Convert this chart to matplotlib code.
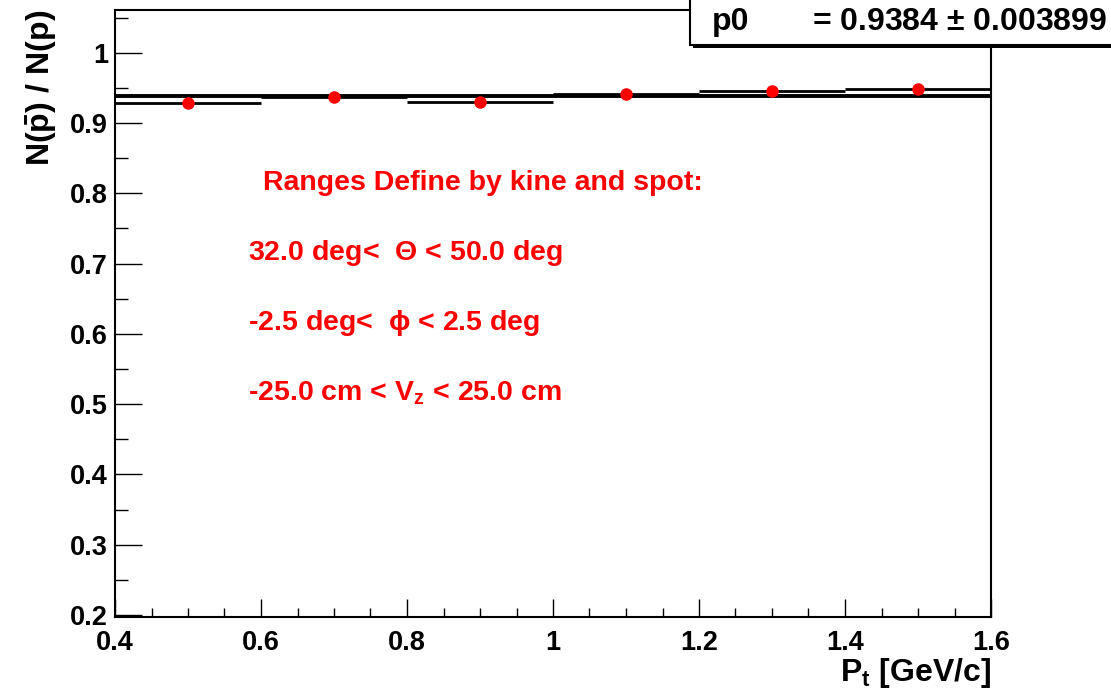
import numpy as np
import matplotlib
matplotlib.use("Agg")
import matplotlib.pyplot as plt
from matplotlib.ticker import MultipleLocator, FuncFormatter
from matplotlib.patches import Rectangle

# data
pt_centers = [0.5, 0.7, 0.9, 1.1, 1.3, 1.5]
pt_halfwidth = [0.1, 0.1, 0.1, 0.1, 0.1, 0.1]
ratio = [0.929, 0.937, 0.930, 0.941, 0.945, 0.948]
ratio_err = [0.006, 0.004, 0.004, 0.004, 0.004, 0.004]
p0 = 0.9384
p0_err = 0.003899

plt.rcParams['font.family'] = ['Liberation Sans', 'DejaVu Sans']
plt.rcParams['font.weight'] = 'bold'
plt.rcParams['axes.labelweight'] = 'bold'
plt.rcParams['mathtext.fontset'] = 'custom'
plt.rcParams['mathtext.rm'] = 'Liberation Sans'
plt.rcParams['mathtext.it'] = 'Liberation Sans:italic'
plt.rcParams['mathtext.bf'] = 'Liberation Sans:bold'

fig = plt.figure(figsize=(11.11, 6.95), dpi=100)
ax = fig.add_axes([115/1111, 78/695, 876/1111, 607/695])

# fit line
ax.plot([0.4, 1.6], [p0, p0], color='black', lw=2.8, zorder=2)
# histogram points
ax.errorbar(pt_centers, ratio, xerr=pt_halfwidth, yerr=ratio_err, fmt='o',
            color='red', ecolor='black', elinewidth=2, capsize=0,
            markersize=8, zorder=3)

ax.set_xlim(0.4, 1.6)
ax.set_ylim(0.197, 1.061)

ax.xaxis.set_major_locator(MultipleLocator(0.2))
ax.xaxis.set_minor_locator(MultipleLocator(0.05))
ax.yaxis.set_major_locator(MultipleLocator(0.1))
ax.yaxis.set_minor_locator(MultipleLocator(0.05))
fmt = FuncFormatter(lambda v, p: '%g' % round(v, 2))
ax.xaxis.set_major_formatter(fmt)
ax.yaxis.set_major_formatter(fmt)

ax.tick_params(axis='both', which='both', direction='in', width=1,
               top=False, right=False, labelsize=19.5)
ax.tick_params(axis='y', which='major', length=19.5, pad=5)
ax.tick_params(axis='y', which='minor', length=9.5)
ax.tick_params(axis='x', which='major', length=13, pad=9)
ax.tick_params(axis='x', which='minor', length=6.5)
for s in ax.spines.values():
    s.set_linewidth(1.5)

ax.set_ylabel(r'$\mathbf{N(\bar{p})\ /\ N(p)}$', fontsize=23, loc='top', labelpad=8)
ax.set_xlabel(r'$\mathbf{P_{t}}$ [GeV/c]', fontsize=23, fontweight='bold',
              loc='right', labelpad=0)

# selection ranges
red_kw = dict(color='red', fontsize=20.5, fontweight='bold', transform=ax.transAxes)
ax.text(148/876, 1 - 173/607, 'Ranges Define by kine and spot:', va='center', **red_kw)
ax.text(133/876, 1 - 243/607, r'32.0 deg<  $\mathrm{\Theta}$ < 50.0 deg', va='center', **red_kw)
ax.text(133/876, 1 - 313/607, r'-2.5 deg<  $\mathrm{\phi}$ < 2.5 deg', va='center', **red_kw)
ax.text(133/876, 1 - 383/607, r'-25.0 cm < $\mathbf{V_{z}}$ < 25.0 cm', va='center', **red_kw)

# fit statistics box with shadow
fig.patches.append(Rectangle((693/1111, 1 - 48/695), 0.6, 0.2,
                             transform=fig.transFigure, facecolor='black',
                             edgecolor='none', zorder=4))
fig.patches.append(Rectangle((690/1111, 1 - 45/695), 0.6, 0.2,
                             transform=fig.transFigure, facecolor='white',
                             edgecolor='black', lw=1.5, zorder=5))
fig.text(712/1111, 1 - 22/695, 'p0', fontsize=23, fontweight='bold',
         va='center', zorder=6)
fig.text(812/1111, 1 - 22/695, '= %.4f' % p0 + r' $\pm$ ' + '%.6f' % p0_err,
         fontsize=23, fontweight='bold', va='center', zorder=6)

fig.savefig('out.png', dpi=100)
